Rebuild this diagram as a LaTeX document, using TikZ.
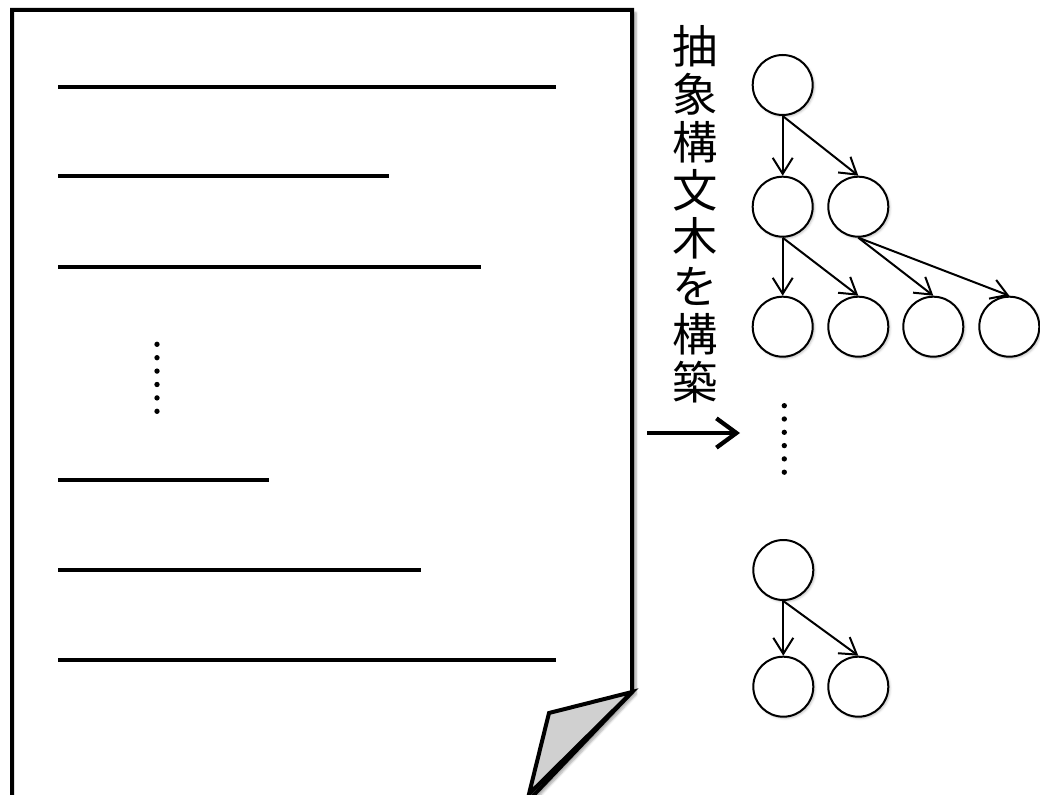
\documentclass[tikz,border=0pt]{standalone}
\usepackage{fontspec}
\newfontfamily\cjk{Noto Sans CJK JP}
\usetikzlibrary{arrows.meta,shadows.blur}
\definecolor{foldgray}{HTML}{D0D0D0}
\tikzset{
  pageline/.style={line width=3pt, line join=miter},
  textline/.style={line width=3pt},
  tnode/.style={circle, draw, line width=1.5pt, fill=white, minimum size=45pt, inner sep=0pt,
    blur shadow={shadow xshift=1.2pt, shadow yshift=-1.2pt, shadow blur steps=4, shadow opacity=25}},
  tedge/.style={line width=1.5pt, -{Straight Barb[length=12pt,width=15pt]}},
  bigarrow/.style={line width=3.2pt, -{Straight Barb[length=15pt,width=22pt]}},
  dotmark/.style={circle, fill=black, inner sep=0pt, minimum size=4pt},
}
\begin{document}
\begin{tikzpicture}[x=0.75pt,y=-0.75pt]
\useasboundingbox (0,0) rectangle (1040,795);
\clip (0,0) rectangle (1040,795);
% page
\path[fill=white, blur shadow={shadow xshift=3pt, shadow yshift=-2pt, shadow blur steps=6, shadow opacity=35}]
  (12,10) -- (632,10) -- (632,692) -- (529,800) -- (12,800) -- cycle;
\draw[pageline] (12,800) -- (12,10) -- (632,10) -- (632,692) -- (529,800);
\draw[pageline, fill=foldgray, line join=miter] (632,692) -- (549,713) -- (529,794) -- cycle;
\draw[line width=1pt, black!60] (12,796) -- (529,796);
% text lines
\coordinate (l1a) at (58,87);  \coordinate (l1b) at (556,87);
\coordinate (l2a) at (58,176); \coordinate (l2b) at (389,176);
\coordinate (l3a) at (58,267); \coordinate (l3b) at (481,267);
\coordinate (l4a) at (58,480); \coordinate (l4b) at (269,480);
\coordinate (l5a) at (58,570); \coordinate (l5b) at (421,570);
\coordinate (l6a) at (58,660); \coordinate (l6b) at (556,660);
\foreach \i in {1,...,6} { \draw[textline] (l\i a) -- (l\i b); }
% left dots
\foreach \k in {0,...,5} { \node[dotmark] (ld\k) at (157,344.3+13.4*\k) {}; }
% vertical label
\node[align=center, font=\cjk\fontsize{34}{36}\selectfont, inner sep=0pt] (label) at (695,214)
  {抽\\象\\構\\文\\木\\を\\構\\築};
% big arrow
\coordinate (arrS) at (647,433);
\coordinate (arrE) at (740,433);
\draw[bigarrow] (arrS) -- (arrE);
% right dots
\foreach \k in {0,...,5} { \node[dotmark] (rd\k) at (784.3,405.7+13.3*\k) {}; }
% tree 1
\node[tnode] (r)  at (782.7,85) {};
\node[tnode] (a)  at (782.7,206.7) {};
\node[tnode] (b)  at (858.3,206.7) {};
\node[tnode] (a1) at (782.7,326.7) {};
\node[tnode] (a2) at (858.3,326.7) {};
\node[tnode] (b1) at (933.3,326.7) {};
\node[tnode] (b2) at (1009.3,326.7) {};
\draw[tedge] (r.south) -- (a.north);
\draw[tedge] (r.south) -- (b.north);
\draw[tedge] (a.south) -- (a1.north);
\draw[tedge] (a.south) -- (a2.north);
\draw[tedge] (b.south) -- (b1.north);
\draw[tedge] (b.south) -- (b2.north);
% tree 2
\node[tnode] (s)  at (783.3,570) {};
\node[tnode] (s1) at (783.3,686.7) {};
\node[tnode] (s2) at (858.3,686.7) {};
\draw[tedge] (s.south) -- (s1.north);
\draw[tedge] (s.south) -- (s2.north);
\end{tikzpicture}
\end{document}
